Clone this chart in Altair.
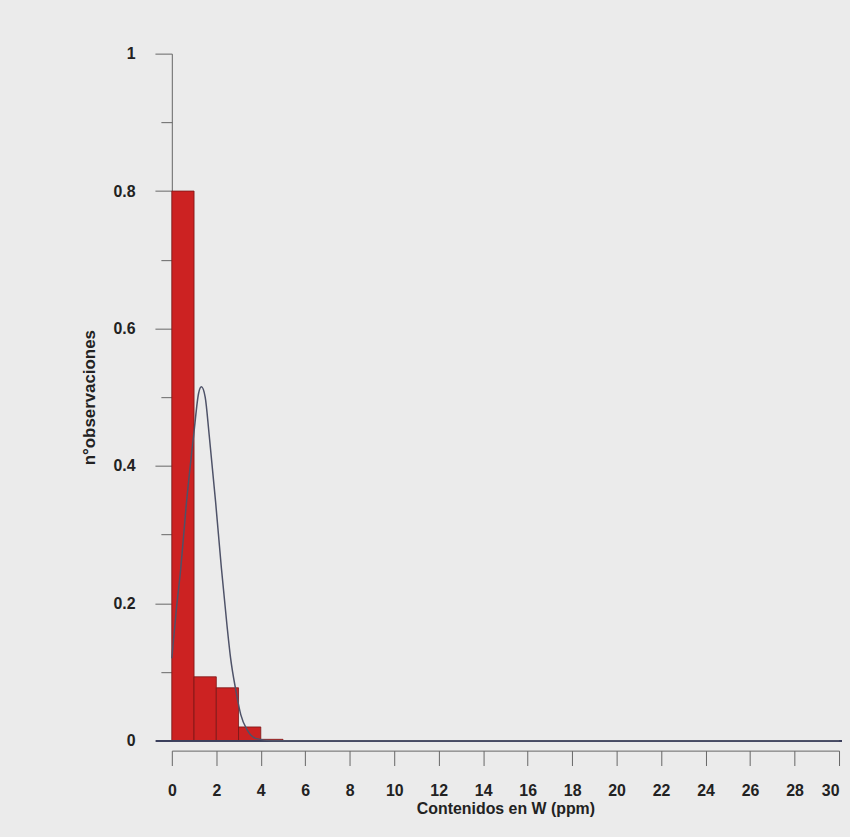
import altair as alt
import pandas as pd

# Histogram bins (width 1 ppm) and relative frequencies
bin_start = [0, 1, 2, 3, 4]
bin_end = [1, 2, 3, 4, 5]
freq = [0.80, 0.093, 0.077, 0.020, 0.002]

# Fitted curve
curve_x = [0.0, 0.2, 0.4, 0.64, 1.0, 1.2, 1.33, 1.5, 1.68, 1.97, 2.23, 2.48,
           2.64, 2.88, 3.1, 3.4, 3.8, 4.5, 30.0]
curve_y = [0.12, 0.19, 0.25, 0.34, 0.45, 0.505, 0.515, 0.50, 0.445, 0.347,
           0.251, 0.168, 0.121, 0.073, 0.038, 0.015, 0.003, 0.0, 0.0]

x_ticks = list(range(0, 31))
y_ticks = [round(i * 0.1, 1) for i in range(0, 11)]

bars_df = pd.DataFrame({"a": bin_start, "b": bin_end, "f": freq})
curve_df = pd.DataFrame({"x": curve_x, "y": curve_y})

W, H = 672, 692
FONT = "Liberation Sans"
BG = "#ebebeb"

x_scale = alt.Scale(domain=[0, 30], nice=False, zero=False)
y_scale = alt.Scale(domain=[0, 1], nice=False)

x_axis = alt.Axis(
    title="Contenidos en W (ppm)",
    values=x_ticks,
    offset=10,
    grid=False,
    domainColor="#666666",
    tickColor="#666666",
    tickSize={"condition": {"test": "datum.value % 2 === 0", "value": 15}, "value": 7},
    labelExpr="datum.value % 2 === 0 ? datum.label : ''",
    labelAlign={"condition": {"test": "datum.value === 30", "value": "right"}, "value": "center"},
    labelFont=FONT, labelFontSize=16, labelFontWeight="bold", labelColor="#222222",
    labelPadding=17, labelFlush=False, labelOverlap=False,
    titleFont=FONT, titleFontSize=16, titleFontWeight="bold", titleColor="#222222",
    titlePadding=2,
)

y_axis = alt.Axis(
    title="n°observaciones",
    values=y_ticks,
    grid=False,
    domainColor="#666666",
    tickColor="#666666",
    tickSize={"condition": {"test": "round(datum.value*10) % 2 === 0", "value": 17}, "value": 11},
    labelExpr="round(datum.value*10) % 2 === 0 ? format(datum.value, '~g') : ''",
    labelFont=FONT, labelFontSize=16, labelFontWeight="bold", labelColor="#222222",
    labelPadding=20, labelFlush=False, labelOverlap=False,
    titleFont=FONT, titleFontSize=17, titleFontWeight="bold", titleColor="#222222",
    titleX=-83, titleY=H / 2, titleAngle=-90, titleAlign="center", titleBaseline="middle",
)

bars = alt.Chart(bars_df).mark_rect(
    color="#cc2222", stroke="#7a1515", strokeWidth=0.8
).encode(
    x=alt.X("a:Q", scale=x_scale, axis=x_axis),
    x2="b:Q",
    y=alt.Y("f:Q", scale=y_scale, axis=y_axis),
    y2=alt.datum(0),
)

zero_line = alt.Chart(bars_df).mark_rule(
    color="#3a3f5c", strokeWidth=1.6, clip=False
).encode(
    y=alt.datum(0),
    x=alt.value(-16),
    x2=alt.value(W + 3),
)

curve = alt.Chart(curve_df).mark_line(
    color="#4e5268", strokeWidth=1.5, interpolate="monotone"
).encode(
    x=alt.X("x:Q", scale=x_scale),
    y=alt.Y("y:Q", scale=y_scale),
)

chart = alt.layer(bars, zero_line, curve).properties(
    width=W, height=H,
    padding={"left": 165, "top": 43, "right": 3, "bottom": 90},
    autosize=alt.AutoSizeParams(type="none"),
    background=BG,
).configure_view(stroke=None)

chart.save("out.html", embed_options={"renderer": "svg", "actions": False})

# page background matches the chart background
with open("out.html", encoding="utf-8") as fh:
    html = fh.read()
html = html.replace("<body>", '<body style="background:%s">' % BG, 1)
with open("out.html", "w", encoding="utf-8") as fh:
    fh.write(html)
